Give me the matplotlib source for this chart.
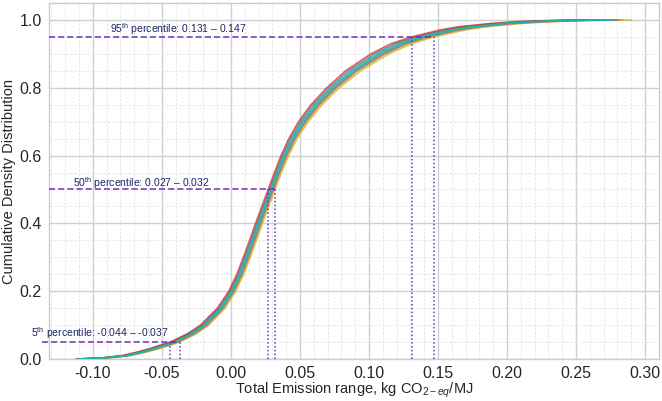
import matplotlib
matplotlib.use("Agg")
import matplotlib.pyplot as plt
from matplotlib.ticker import MultipleLocator

plt.rcParams["font.family"] = ["Liberation Sans", "DejaVu Sans"]
plt.rcParams["mathtext.fontset"] = "custom"
plt.rcParams["mathtext.rm"] = "Liberation Sans"
plt.rcParams["mathtext.it"] = "Liberation Sans:italic"
plt.rcParams["axes.unicode_minus"] = True

# Cumulative levels shared by all simulated curves
CDF_LEVELS = [0.000, 0.003, 0.010, 0.020, 0.030, 0.050, 0.075, 0.100, 0.150, 0.200,
              0.250, 0.300, 0.350, 0.400, 0.450, 0.500, 0.550, 0.600, 0.650, 0.700,
              0.750, 0.800, 0.850, 0.900, 0.930, 0.950, 0.970, 0.980, 0.990, 0.995,
              0.999, 1.000]

# Emission values (kg CO2-eq/MJ) at each level, one list per run
RUN_BLUE = [-0.1112, -0.0935, -0.0778, -0.0670, -0.0581, -0.0426, -0.0300, -0.0208,
            -0.0087, -0.0005, 0.0053, 0.0101, 0.0145, 0.0189, 0.0234, 0.0280, 0.0326,
            0.0374, 0.0432, 0.0504, 0.0596, 0.0713, 0.0853, 0.1041, 0.1190, 0.1342,
            0.1546, 0.1690, 0.1934, 0.2125, 0.2410, 0.2660]
RUN_ORANGE = [-0.1088, -0.0905, -0.0742, -0.0631, -0.0539, -0.0384, -0.0260, -0.0172,
              -0.0054, 0.0025, 0.0083, 0.0131, 0.0175, 0.0219, 0.0264, 0.0310, 0.0356,
              0.0407, 0.0468, 0.0546, 0.0644, 0.0767, 0.0919, 0.1119, 0.1280, 0.1438,
              0.1654, 0.1810, 0.2066, 0.2275, 0.2590, 0.2840]
RUN_GREEN = [-0.1104, -0.0925, -0.0766, -0.0657, -0.0567, -0.0412, -0.0287, -0.0196,
             -0.0076, 0.0005, 0.0063, 0.0111, 0.0155, 0.0199, 0.0244, 0.0290, 0.0336,
             0.0385, 0.0444, 0.0518, 0.0612, 0.0731, 0.0875, 0.1067, 0.1220, 0.1374,
             0.1582, 0.1730, 0.1978, 0.2175, 0.2470, 0.2720]
RUN_RED = [-0.1120, -0.0945, -0.0790, -0.0683, -0.0595, -0.0440, -0.0313, -0.0220,
           -0.0098, -0.0015, 0.0043, 0.0091, 0.0135, 0.0179, 0.0224, 0.0270, 0.0316,
           0.0363, 0.0420, 0.0490, 0.0580, 0.0695, 0.0831, 0.1015, 0.1160, 0.1310,
           0.1510, 0.1650, 0.1890, 0.2075, 0.2350, 0.2600]
RUN_PURPLE = [-0.1096, -0.0915, -0.0754, -0.0644, -0.0553, -0.0398, -0.0274, -0.0184,
              -0.0065, 0.0015, 0.0073, 0.0121, 0.0165, 0.0209, 0.0254, 0.0300, 0.0346,
              0.0396, 0.0456, 0.0532, 0.0628, 0.0749, 0.0897, 0.1093, 0.1250, 0.1406,
              0.1618, 0.1770, 0.2022, 0.2225, 0.2530, 0.2780]
RUN_GRAY = [-0.1092, -0.0910, -0.0748, -0.0637, -0.0546, -0.0391, -0.0267, -0.0178,
            -0.0059, 0.0020, 0.0078, 0.0126, 0.0170, 0.0214, 0.0259, 0.0305, 0.0351,
            0.0401, 0.0462, 0.0539, 0.0636, 0.0758, 0.0908, 0.1106, 0.1265, 0.1422,
            0.1636, 0.1790, 0.2044, 0.2250, 0.2560, 0.2810]
RUN_OLIVE = [-0.1080, -0.0895, -0.0730, -0.0618, -0.0525, -0.0370, -0.0248, -0.0160,
             -0.0043, 0.0035, 0.0093, 0.0141, 0.0185, 0.0229, 0.0274, 0.0320, 0.0366,
             0.0418, 0.0480, 0.0560, 0.0660, 0.0785, 0.0941, 0.1145, 0.1310, 0.1470,
             0.1690, 0.1850, 0.2110, 0.2325, 0.2650, 0.2900]
RUN_CYAN = [-0.1100, -0.0920, -0.0760, -0.0650, -0.0560, -0.0405, -0.0280, -0.0190,
            -0.0070, 0.0010, 0.0068, 0.0116, 0.0160, 0.0204, 0.0249, 0.0295, 0.0341,
            0.0390, 0.0450, 0.0525, 0.0620, 0.0740, 0.0886, 0.1080, 0.1235, 0.1390,
            0.1600, 0.1750, 0.2000, 0.2200, 0.2500, 0.2750]

RUNS = [RUN_OLIVE, RUN_ORANGE, RUN_BLUE, RUN_RED, RUN_PURPLE, RUN_GRAY, RUN_GREEN, RUN_CYAN]
RUN_COLORS = ["tab:olive", "tab:orange", "tab:blue", "tab:red",
              "tab:purple", "tab:gray", "tab:green", "tab:cyan"]

# Percentile ranges across runs
PCT_NAMES = ["5", "50", "95"]
PCT_LEVELS = [0.05, 0.50, 0.95]
PCT_LOW = [-0.044, 0.027, 0.131]
PCT_HIGH = [-0.037, 0.032, 0.147]

LINE_COLOR = "#7030b8"
TEXT_COLOR = "#1c2466"

fig = plt.figure(figsize=(6.62, 4.01), dpi=100)
ax = fig.add_axes([0.0733, 0.1047, 0.9222, 0.8878])

for run, color in zip(RUNS, RUN_COLORS):
    ax.plot(run, CDF_LEVELS, color=color, lw=1.2, alpha=0.75, zorder=3)

ax.set_ylim(0, 1.05)
xlim = ax.get_xlim()
ax.set_xlim(xlim)

# percentile markers: dashed level line, dotted min/max drops, label above
label_pos = [(-0.145, 0.0755, -0.137), (-0.1145, 0.5185, xlim[0]), (-0.0877, 0.973, xlim[0])]
for name, lvl, lo, hi, (tx, ty, x0) in zip(PCT_NAMES, PCT_LEVELS, PCT_LOW, PCT_HIGH, label_pos):
    ax.plot([x0, hi], [lvl, lvl], color=LINE_COLOR, ls=(0, (4, 2)), lw=1.1,
            clip_on=False, zorder=4)
    ax.plot([lo, lo], [0, lvl], color=LINE_COLOR, ls=(0, (1, 1.5)), lw=1.1, zorder=4)
    ax.plot([hi, hi], [0, lvl], color=LINE_COLOR, ls=(0, (1, 1.5)), lw=1.1, zorder=4)
    ax.text(tx, ty, f"{name}$^{{\\mathrm{{th}}}}$ percentile: {lo:.3f} \u2013 {hi:.3f}",
            fontsize=7.5, color=TEXT_COLOR, va="center", ha="left", zorder=5)

ax.xaxis.set_major_locator(MultipleLocator(0.05))
ax.xaxis.set_minor_locator(MultipleLocator(0.01))
ax.yaxis.set_major_locator(MultipleLocator(0.2))
ax.yaxis.set_minor_locator(MultipleLocator(0.05))
ax.xaxis.set_major_formatter(plt.FormatStrFormatter("%.2f"))
ax.yaxis.set_major_formatter(plt.FormatStrFormatter("%.1f"))

ax.grid(which="major", color="#d0d0d0", lw=1.0, ls="-")
ax.grid(which="minor", color="#e2e2e2", lw=0.6, ls=(0, (3, 2)))
ax.set_axisbelow(True)
ax.tick_params(which="both", length=0, labelsize=11.5, colors="#262626")
ax.tick_params(axis="x", pad=5)
ax.tick_params(axis="y", pad=5)
for sp in ax.spines.values():
    sp.set_color("#cccccc")
    sp.set_linewidth(1.0)

ax.set_xlabel("Total Emission range, kg CO$_{2-eq}$/MJ", fontsize=10.5, color="#262626", labelpad=0)
ax.set_ylabel("Cumulative Density Distribution", fontsize=10.5, color="#262626", labelpad=2.5)

fig.savefig("out.png", dpi=100)
